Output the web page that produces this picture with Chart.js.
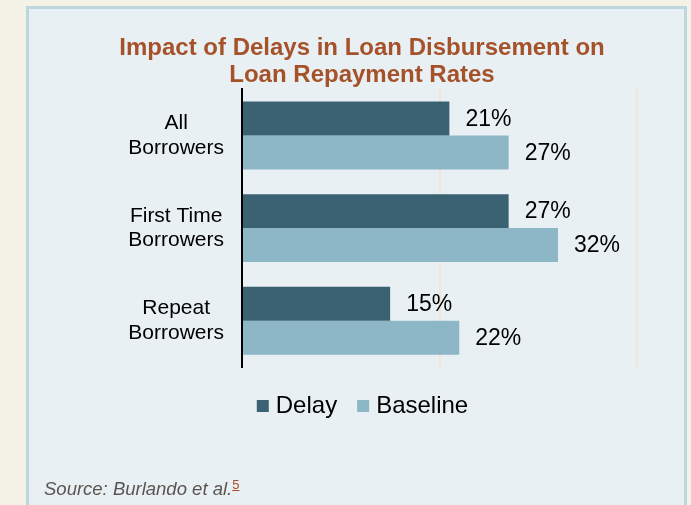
<!DOCTYPE html>
<html>
<head>
<meta charset="utf-8">
<script src="https://cdn.jsdelivr.net/npm/chart.js@4/dist/chart.umd.min.js"></script>
<style>
  html, body { margin: 0; padding: 0; }
  body {
    width: 691px; height: 505px; overflow: hidden;
    background: #f4f2e6; position: relative;
    font-family: "Liberation Sans", Arial, sans-serif;
  }
  .panel {
    position: absolute; left: 26px; top: 6px;
    width: 661px; height: 540px; box-sizing: border-box;
    background: #e8f0f3; border: 3px solid #bdd7e0;
  }
  #wrap { position: absolute; left: 0; top: 0; width: 691px; height: 505px; }
  .source {
    position: absolute; left: 44px; top: 478px;
    font-size: 18.5px; font-style: italic; color: #5b5552;
    line-height: 1.15; white-space: nowrap;
  }
  .source sup {
    font-size: 13px; color: #a5522a; text-decoration: underline;
    font-style: normal; vertical-align: 6px; line-height: 0;
  }
</style>
</head>
<body>
<div class="panel"></div>
<div id="wrap"><canvas id="chart" width="691" height="505"></canvas></div>
<div class="source">Source: Burlando et al.<sup>5</sup></div>
<script>
// Repayment rates by borrower group (percent)
const categories = [["All", "Borrowers"], ["First Time", "Borrowers"], ["Repeat", "Borrowers"]];
const delayValues = [21, 27, 15];
const baselineValues = [27, 32, 22];
const seriesNames = ["Delay", "Baseline"];
const titleLines = ["Impact of Delays in Loan Disbursement on", "Loan Repayment Rates"];

const FONT = '"Liberation Sans", Arial, sans-serif';

// Writes "NN%" just past the end of every bar
const valueLabels = {
  id: 'valueLabels',
  afterDatasetsDraw(chart) {
    const ctx = chart.ctx;
    ctx.save();
    ctx.font = '23px ' + FONT;
    ctx.fillStyle = '#000';
    ctx.textAlign = 'left';
    ctx.textBaseline = 'middle';
    chart.data.datasets.forEach((ds, i) => {
      chart.getDatasetMeta(i).data.forEach((bar, j) => {
        ctx.fillText(ds.data[j] + '%', bar.x + 16, bar.y + 1);
      });
    });
    ctx.restore();
  }
};

// Nudges the legend row a little to the right so the swatches sit centred
const legendNudge = {
  id: 'legendNudge',
  afterLayout(chart) {
    if (chart.legend) {
      chart.legend.left += 3;
      chart.legend.right += 3;
    }
  }
};

new Chart(document.getElementById('chart'), {
  type: 'bar',
  data: {
    labels: categories,
    datasets: [
      { label: seriesNames[0], data: delayValues, backgroundColor: '#3a6272' },
      { label: seriesNames[1], data: baselineValues, backgroundColor: '#8db6c7' }
    ]
  },
  options: {
    indexAxis: 'y',
    responsive: false,
    animation: false,
    events: [],
    categoryPercentage: 0.733,
    barPercentage: 1.0,
    layout: { padding: { left: 87, right: 54, top: 35, bottom: 77 } },
    scales: {
      x: {
        min: 0, max: 40,
        ticks: { display: false, stepSize: 20 },
        grid: {
          drawTicks: false,
          lineWidth: 2,
          color: (c) => (c.tick && c.tick.value === 0) ? 'rgba(0,0,0,0)' : '#efe6d8'
        },
        border: { display: false },
        afterFit(scale) { scale.height = 2; }
      },
      y: {
        grid: { display: false, drawTicks: false },
        border: { display: true, color: '#000', width: 2 },
        ticks: {
          color: '#000',
          font: { family: FONT, size: 21, lineHeight: 1.17 },
          crossAlign: 'center',
          padding: 18
        },
        afterFit(scale) { scale.width = 155; }
      }
    },
    plugins: {
      title: {
        display: true,
        text: titleLines,
        color: '#a5522a',
        font: { family: FONT, size: 24, weight: 'bold', lineHeight: 1.13 },
        padding: { top: 0, bottom: 0 }
      },
      legend: {
        position: 'bottom',
        labels: {
          color: '#000',
          font: { family: FONT, size: 24 },
          usePointStyle: true,
          pointStyle: 'rect',
          boxWidth: 2,
          boxHeight: 12,
          padding: 25
        }
      },
      tooltip: { enabled: false }
    }
  },
  plugins: [valueLabels, legendNudge]
});
</script>
</body>
</html>
